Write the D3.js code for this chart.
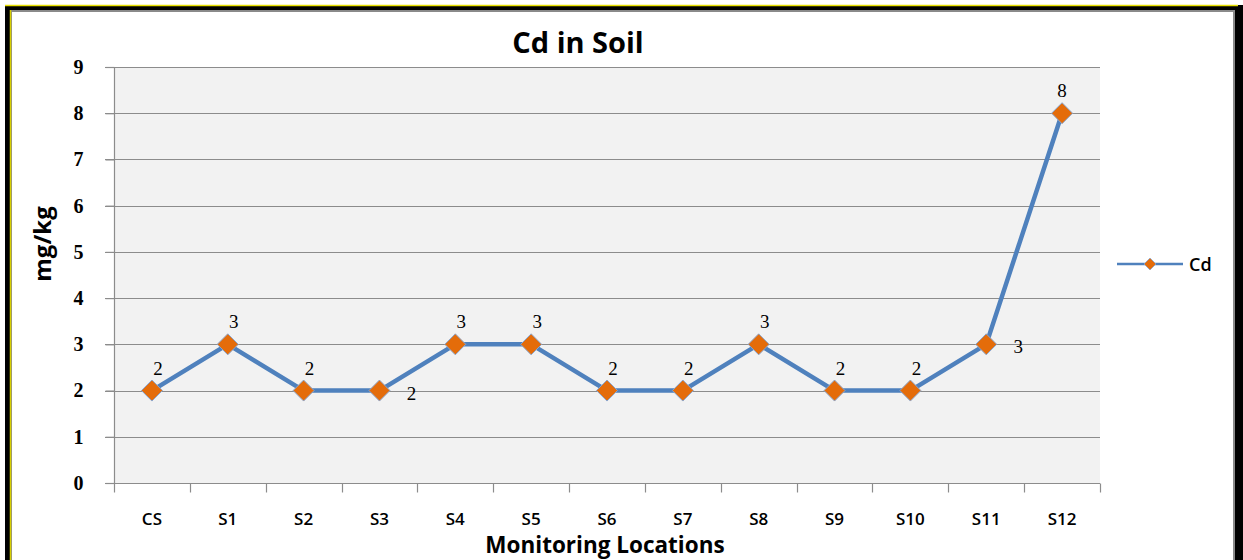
<!DOCTYPE html>
<meta charset="utf-8">
<title>Cd in Soil</title>
<style>
body {
  margin: 0px;
  background: #fff;
}
svg {
  display: block;
}
.grid line {
  stroke: #8c8c8c;
  stroke-width: 1;
}
.axis path, .axis line {
  stroke: #8c8c8c;
  stroke-width: 1.2;
}
.ytick text {
  font-family: "Liberation Serif", serif;
  font-weight: bold;
  font-size: 20px;
  fill: #000;
}
.xtick text {
  font-family: "Open Sans", sans-serif;
  font-weight: 600;
  font-size: 17px;
  fill: #000;
}
.lbl {
  font-family: "Liberation Serif", serif;
  font-size: 19px;
  fill: #000;
}
.ttl {
  font-family: "Open Sans", sans-serif;
  font-weight: bold;
  fill: #000;
}
</style>
<script src="https://d3js.org/d3.v7.min.js"></script>
<body>
<script>
var width = 1243, height = 560;

// chart data
var locations = ["CS", "S1", "S2", "S3", "S4", "S5", "S6", "S7", "S8", "S9", "S10", "S11", "S12"];
var cd = [2, 3, 2, 2, 3, 3, 2, 2, 3, 2, 2, 3, 8];
var labelSide = ["top", "top", "top", "right", "top", "top", "top", "top", "top", "top", "top", "right", "top"];
var yTicks = [0, 1, 2, 3, 4, 5, 6, 7, 8, 9];

var margin = {left: 114, right: 143, top: 67, bottom: 77};

var svg = d3.select("body").append("svg")
    .attr("width", width)
    .attr("height", height);

// outer frame (black border, yellow edge)
svg.append("rect").attr("x", 0).attr("y", 0).attr("width", width).attr("height", height).attr("fill", "#fff");
svg.append("rect").attr("x", 5).attr("y", 5).attr("width", 1238).attr("height", 560).attr("fill", "#000");
svg.append("line").attr("x1", 5).attr("x2", 1238).attr("y1", 5.5).attr("y2", 5.5).attr("stroke", "#e8e000").attr("stroke-width", 1.5);
svg.append("rect").attr("x", 10).attr("y", 10).attr("width", 1225).attr("height", 560).attr("fill", "#8a8a8a");
svg.append("line").attr("x1", 10.5).attr("x2", 10.5).attr("y1", 10).attr("y2", 560).attr("stroke", "#d8d000").attr("stroke-width", 1.5);
svg.append("rect").attr("x", 12).attr("y", 12).attr("width", 1221).attr("height", 560).attr("fill", "#fff");

var x = d3.scaleBand()
    .domain(locations)
    .range([margin.left, width - margin.right]);

var y = d3.scaleLinear()
    .domain([0, 9])
    .range([height - margin.bottom, margin.top]);

// plot area
svg.append("rect")
    .attr("x", x.range()[0])
    .attr("y", y(9))
    .attr("width", x.range()[1] - x.range()[0])
    .attr("height", y(0) - y(9))
    .attr("fill", "#f2f2f2");

// gridlines
svg.append("g").attr("class", "grid")
  .selectAll("line")
  .data(yTicks.filter(function(d) { return d > 0; }))
  .enter().append("line")
    .attr("x1", margin.left - 9)
    .attr("x2", width - margin.right)
    .attr("y1", function(d) { return Math.round(y(d)) + 0.5; })
    .attr("y2", function(d) { return Math.round(y(d)) + 0.5; });

// y axis
var yAxis = svg.append("g").attr("class", "axis ytick")
    .attr("transform", "translate(" + (margin.left + 0.5) + ",0)")
    .call(d3.axisLeft(y).tickValues(yTicks).tickSize(9).tickPadding(22).tickFormat(d3.format("d")));
yAxis.select(".domain").remove();
yAxis.append("line").attr("x1", 0).attr("x2", 0).attr("y1", y(9)).attr("y2", y(0));

// x axis with ticks at category boundaries
var xAxis = svg.append("g").attr("class", "axis xtick")
    .attr("transform", "translate(0," + (Math.round(y(0)) + 0.5) + ")");
xAxis.append("line")
    .attr("x1", margin.left - 9).attr("x2", width - margin.right)
    .attr("y1", 0).attr("y2", 0);
var bounds = locations.map(function(d) { return x(d); }).concat([x.range()[1]]);
xAxis.selectAll("line.tk")
  .data(bounds)
  .enter().append("line")
    .attr("class", "tk")
    .attr("x1", function(d) { return Math.round(d) + 0.5; })
    .attr("x2", function(d) { return Math.round(d) + 0.5; })
    .attr("y1", 0).attr("y2", 9);
xAxis.selectAll("text")
  .data(locations)
  .enter().append("text")
    .attr("x", function(d) { return x(d) + x.bandwidth() / 2; })
    .attr("y", 41)
    .attr("text-anchor", "middle")
    .text(function(d) { return d; });

// series line
var cx = function(d, i) { return x(locations[i]) + x.bandwidth() / 2; };
var line = d3.line()
    .x(function(d, i) { return cx(d, i); })
    .y(function(d) { return y(d); });

svg.append("path")
    .datum(cd)
    .attr("fill", "none")
    .attr("stroke", "#4f81bd")
    .attr("stroke-width", 4.5)
    .attr("stroke-linejoin", "round")
    .attr("d", line);

var diamond = "M0,-10.5L10.5,0L0,10.5L-10.5,0Z";
svg.append("g").selectAll("path")
  .data(cd)
  .enter().append("path")
    .attr("d", diamond)
    .attr("fill", "#e46c0a")
    .attr("stroke", "#8aa6cf")
    .attr("stroke-width", 1)
    .attr("transform", function(d, i) { return "translate(" + cx(d, i) + "," + y(d) + ")"; });

// data labels
svg.append("g").selectAll("text")
  .data(cd)
  .enter().append("text")
    .attr("class", "lbl")
    .attr("text-anchor", "middle")
    .attr("x", function(d, i) { return cx(d, i) + (labelSide[i] === "right" ? 32 : (i === 12 ? 0 : 6)); })
    .attr("y", function(d, i) { return y(d) + (labelSide[i] === "right" ? 9 : -16); })
    .text(function(d) { return d; });

// titles
svg.append("text").attr("class", "ttl")
    .attr("x", 578).attr("y", 53)
    .attr("text-anchor", "middle")
    .attr("font-size", "29px")
    .text("Cd in Soil");

svg.append("text").attr("class", "ttl")
    .attr("transform", "translate(51,244) rotate(-90)")
    .attr("text-anchor", "middle")
    .attr("font-size", "24px")
    .text("mg/kg");

svg.append("text").attr("class", "ttl")
    .attr("x", 605).attr("y", 553)
    .attr("text-anchor", "middle")
    .attr("font-size", "22.5px")
    .text("Monitoring Locations");

// legend
var lg = svg.append("g").attr("transform", "translate(1117,264)");
lg.append("line").attr("x1", 0).attr("x2", 66).attr("y1", 0).attr("y2", 0)
    .attr("stroke", "#4f81bd").attr("stroke-width", 2.5);
lg.append("path").attr("d", "M0,-6L6,0L0,6L-6,0Z").attr("transform", "translate(33,0)")
    .attr("fill", "#e46c0a").attr("stroke", "#8aa6cf").attr("stroke-width", 0.8);
lg.append("text").attr("x", 72).attr("y", 7)
    .attr("font-family", "Open Sans, sans-serif").attr("font-weight", 600)
    .attr("font-size", "18px").text("Cd");
</script>
</body>
